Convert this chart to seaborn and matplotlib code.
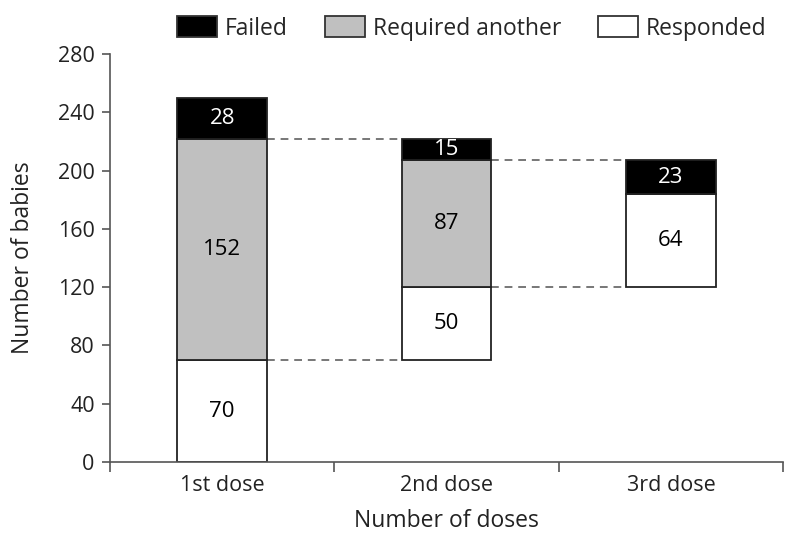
import numpy as np
import matplotlib
matplotlib.use("Agg")
import matplotlib.pyplot as plt
import matplotlib.patches as mpatches
import seaborn as sns

# ---- data ----
doses = ["1st dose", "2nd dose", "3rd dose"]
start = [0, 70, 120]            # where each dose's bar begins
responded = [70, 50, 64]
required = [152, 87, 0]
failed = [28, 15, 23]

sns.set_theme(style="ticks")
plt.rcParams["font.family"] = ["Open Sans", "DejaVu Sans"]

fig = plt.figure(figsize=(7.87, 5.35), dpi=100)
ax = fig.add_axes([0.1398, 0.1364, 0.8552, 0.7626])

BW = 0.4
segments = [
    ("Responded", responded, "white", "black"),
    ("Required another", required, "#c0c0c0", "black"),
    ("Failed", failed, "black", "white"),
]

bottom = np.array(start, dtype=float)
for name, vals, col, txtcol in segments:
    vals = np.array(vals, dtype=float)
    sns.barplot(x=doses, y=vals, bottom=bottom, color=col, edgecolor="#222222",
                linewidth=1.3, width=BW, saturation=1, ax=ax)
    for i, v in enumerate(vals):
        if v > 0:
            ax.text(i, bottom[i] + v / 2, f"{int(v)}", ha="center", va="center",
                    fontsize=16, color=txtcol)
    bottom = bottom + vals

# dashed connectors between bars
tops = bottom
for i in range(len(doses) - 1):
    for lvl in (start[i + 1], tops[i + 1]):
        ax.plot([i + BW / 2, i + 1 - BW / 2], [lvl, lvl], ls=(0, (4, 3)),
                color="#777777", lw=1.4, zorder=0)

ax.set_xlim(-0.5, 2.5)
ax.set_ylim(0, 280)
ax.set_yticks(np.arange(0, 281, 40))
ax.set_xticks([0, 1, 2])
ax.set_xticklabels(doses)
ax.set_xticks([-0.5, 0.5, 1.5, 2.5], minor=True)
ax.tick_params(axis="x", which="major", length=0, labelsize=15.5, pad=9, colors="#222222")
ax.tick_params(axis="x", which="minor", length=7, width=1.2, color="#555555")
ax.tick_params(axis="y", length=6, width=1.2, labelsize=15.5, pad=5, color="#555555",
               labelcolor="#222222")
for s in ("top", "right"):
    ax.spines[s].set_visible(False)
for s in ("left", "bottom"):
    ax.spines[s].set_color("#555555")
    ax.spines[s].set_linewidth(1.2)

ax.set_xlabel("Number of doses", fontsize=16.5, color="#222222")
ax.set_ylabel("Number of babies", fontsize=16.5, color="#222222")
ax.xaxis.set_label_coords(0.5, -0.145)
ax.xaxis.label.set_va("center")
ax.yaxis.set_label_coords(-0.129, 0.5)
ax.yaxis.label.set_va("center")

handles = [mpatches.Patch(facecolor=c, edgecolor="#333333", lw=1.3, label=n)
           for n, _, c, _ in segments[::-1]]
fig.legend(handles=handles, loc="center left", bbox_to_anchor=(0.225, 0.947),
           ncol=3, frameon=False, fontsize=16.5, handlelength=1.75, handleheight=1.05,
           handletextpad=0.35, columnspacing=1.6, borderaxespad=0, borderpad=0)

fig.savefig("out.png", dpi=100)
